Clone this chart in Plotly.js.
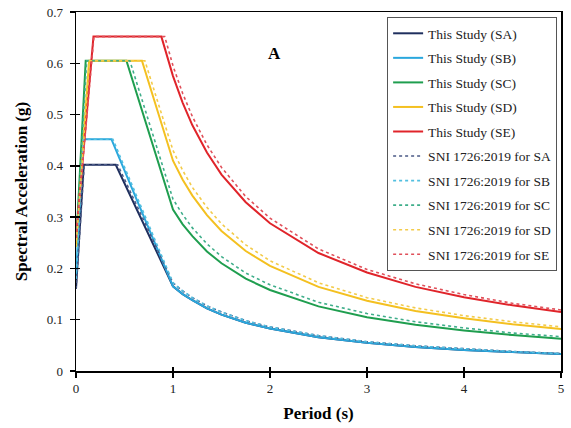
<!DOCTYPE html>
<html>
<head>
<meta charset="utf-8">
<script src="https://cdn.plot.ly/plotly-3.0.1.min.js"></script>
<style>html,body{margin:0;padding:0;background:#fff;}#chart{width:571px;height:428px;}</style>
</head>
<body>
<div id="chart"></div>
<script>
// Shared period samples for the descending (1/T) branch, seconds
const tailPeriods = [1, 1.1, 1.2, 1.35, 1.5, 1.75, 2, 2.5, 3, 3.5, 4, 4.5, 5];

// Head periods (T=0, T0, Ts) for each curve
const headStudySA = [0, 0.08, 0.41];
const headStudySB = [0, 0.07, 0.365];
const headStudySC = [0, 0.10, 0.52];
const headStudySD = [0, 0.135, 0.68];
const headStudySE = [0, 0.18, 0.88];
const headSniSA = [0, 0.085, 0.43];
const headSniSB = [0, 0.076, 0.38];
const headSniSC = [0, 0.11, 0.555];
const headSniSD = [0, 0.14, 0.71];
const headSniSE = [0, 0.185, 0.915];

// Spectral acceleration values (g): head (3) followed by tail (13)
const studySA = [0.16, 0.402, 0.402, 0.165, 0.150, 0.138, 0.122, 0.110, 0.094, 0.083, 0.066, 0.055, 0.047, 0.041, 0.037, 0.033];
const studySB = [0.18, 0.452, 0.452, 0.165, 0.150, 0.138, 0.122, 0.110, 0.094, 0.083, 0.066, 0.055, 0.047, 0.041, 0.037, 0.033];
const studySC = [0.242, 0.605, 0.605, 0.315, 0.286, 0.263, 0.233, 0.210, 0.180, 0.158, 0.126, 0.105, 0.090, 0.079, 0.070, 0.063];
const studySD = [0.242, 0.605, 0.605, 0.410, 0.373, 0.342, 0.304, 0.273, 0.234, 0.205, 0.164, 0.137, 0.117, 0.103, 0.091, 0.082];
const studySE = [0.26, 0.652, 0.652, 0.575, 0.523, 0.479, 0.426, 0.383, 0.329, 0.288, 0.230, 0.192, 0.164, 0.144, 0.128, 0.115];
const sniSA = [0.16, 0.402, 0.402, 0.172, 0.156, 0.143, 0.127, 0.115, 0.098, 0.086, 0.069, 0.057, 0.049, 0.043, 0.038, 0.034];
const sniSB = [0.18, 0.452, 0.452, 0.172, 0.156, 0.143, 0.127, 0.115, 0.098, 0.086, 0.069, 0.057, 0.049, 0.043, 0.038, 0.034];
const sniSC = [0.242, 0.605, 0.605, 0.335, 0.305, 0.279, 0.248, 0.223, 0.191, 0.168, 0.134, 0.112, 0.096, 0.084, 0.074, 0.067];
const sniSD = [0.242, 0.605, 0.605, 0.430, 0.391, 0.358, 0.319, 0.287, 0.246, 0.215, 0.172, 0.143, 0.123, 0.108, 0.096, 0.086];
const sniSE = [0.26, 0.652, 0.652, 0.595, 0.541, 0.496, 0.441, 0.397, 0.340, 0.298, 0.238, 0.198, 0.170, 0.149, 0.132, 0.119];

const names = ['This Study (SA)', 'This Study (SB)', 'This Study (SC)', 'This Study (SD)', 'This Study (SE)',
  'SNI 1726:2019 for SA', 'SNI 1726:2019 for SB', 'SNI 1726:2019 for SC', 'SNI 1726:2019 for SD', 'SNI 1726:2019 for SE'];
const heads = [headStudySA, headStudySB, headStudySC, headStudySD, headStudySE, headSniSA, headSniSB, headSniSC, headSniSD, headSniSE];
const values = [studySA, studySB, studySC, studySD, studySE, sniSA, sniSB, sniSC, sniSD, sniSE];
const colors = ['#1f2f5e', '#2aa7dd', '#1f9e4f', '#f4c020', '#e0242a',
  '#4b5a86', '#52bfe0', '#3fae8a', '#f3cb4a', '#e0505a'];

const font = '"Liberation Serif", "Times New Roman", serif';
const traces = names.map((n, i) => ({
  type: 'scatter', mode: 'lines', name: n,
  x: heads[i].concat(tailPeriods), y: values[i],
  legendgroup: 'g' + i,
  line: {color: colors[i], width: i < 5 ? 2 : 1.6, dash: i < 5 ? 'solid' : '3px,3px'}
}));

const axisBase = {
  showgrid: false, zeroline: false,
  showline: true, linecolor: '#000', linewidth: 1.5,
  tickwidth: 1.5, tickcolor: '#000', ticklen: 5,
  tickfont: {family: font, size: 13, color: '#222'}
};

const layout = {
  width: 571, height: 428,
  margin: {l: 76, r: 10, t: 12, b: 57},
  paper_bgcolor: '#fff', plot_bgcolor: 'rgba(0,0,0,0)',
  font: {family: font, color: '#222', size: 13},
  showlegend: true,
  legend: {
    x: 0.992, xanchor: 'right', y: 0.986, yanchor: 'top',
    bordercolor: '#555', borderwidth: 1, bgcolor: '#fff',
    font: {family: font, size: 13.5, color: '#222'},
    traceorder: 'grouped', tracegroupgap: 4
  },
  xaxis: Object.assign({}, axisBase, {
    range: [0, 5], dtick: 1, mirror: true, ticks: 'outside',
    title: {text: '<b>Period (s)</b>', font: {family: font, size: 17, color: '#000'}, standoff: 12}
  }),
  yaxis: Object.assign({}, axisBase, {
    range: [0, 0.7], dtick: 0.1, mirror: true, ticks: 'outside',
    ticklabelstandoff: 4,
    title: {text: '<b>Spectral Acceleration (g)</b>', font: {family: font, size: 17, color: '#000'}, standoff: 14}
  }),
  xaxis2: Object.assign({}, axisBase, {
    range: [0, 5], dtick: 1, overlaying: 'x', anchor: 'y', side: 'bottom',
    ticks: 'inside', ticklen: 4, showticklabels: false, showline: false
  }),
  yaxis2: Object.assign({}, axisBase, {
    range: [0, 0.7], dtick: 0.1, overlaying: 'y', anchor: 'x', side: 'left',
    ticks: 'inside', ticklen: 4, showticklabels: false, showline: false
  }),
  annotations: [{
    text: '<b>A</b>', xref: 'paper', yref: 'paper', x: 0.409, y: 0.916,
    showarrow: false, font: {family: font, size: 17, color: '#000'}
  }]
};

// invisible helper traces so the overlay axes (inside tick halves) are drawn
const helperX = {type: 'scatter', mode: 'lines', x: [0, 5], y: [0, 0], xaxis: 'x2', yaxis: 'y',
  line: {width: 0}, showlegend: false, hoverinfo: 'skip'};
const helperY = {type: 'scatter', mode: 'lines', x: [0, 0], y: [0, 0.7], xaxis: 'x', yaxis: 'y2',
  line: {width: 0}, showlegend: false, hoverinfo: 'skip'};

Plotly.newPlot('chart', traces.concat([helperX, helperY]), layout, {displayModeBar: false, staticPlot: true});
</script>
</body>
</html>
